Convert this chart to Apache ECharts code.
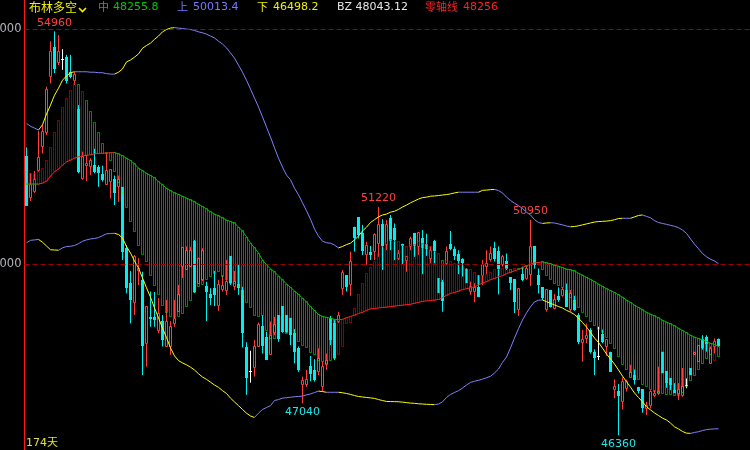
<!DOCTYPE html>
<html><head><meta charset="utf-8">
<script src="https://cdn.jsdelivr.net/npm/echarts/dist/echarts.min.js"></script>
<style>html,body{margin:0;padding:0;background:#000;}#c{width:750px;height:450px;}</style>
</head><body><div id="c"></div>
<script>
const open=[52310,51420,51540,51990,52510,52810,53990,54630,54290,54370,
54410,54100,53920,53310,51830,52100,52080,52110,52080,51920,
51690,51770,51820,51650,51650,50350,49600,49180,49860,49670,
48320,48880,48880,48600,48790,48250,48250,48740,48990,49960,
49880,49950,50500,49600,49670,49540,49370,49490,49120,49470,
49450,50180,49520,49590,49450,48230,47710,47800,48260,48690,
48460,48070,48540,48920,49110,48920,48850,48530,48210,47450,
47440,47830,47760,47710,47390,47860,48860,48740,48780,49490,
49770,49560,50800,51000,50660,50210,50270,50270,50450,50860,
50430,50990,50780,50130,50430,50090,50380,50670,50380,50570,
50430,50130,50500,49710,49620,50020,50430,50320,50210,50110,
49910,49430,49420,49520,49770,49950,50110,50350,50280,49990,
50070,49720,49680,49040,49790,49700,49790,50380,49770,49510,
49040,49450,49060,49330,49330,49450,49030,49250,48920,48340,
48420,48600,48140,48030,48520,48260,48140,47340,47310,47070,
47360,47590,47640,47390,47340,46930,47000,47200,47250,48140,
47730,47570,47320,47250,47200,47430,47790,48070,47930,48420,
48460,47890,48260,48420];
const close=[51250,51700,51800,52280,52820,53730,54540,54160,54540,54370,
53900,53990,54050,51970,52290,52150,52200,51970,51940,51800,
51990,52010,51520,51800,50270,49490,49240,50160,49910,48250,
49110,48830,48810,48960,48390,48780,48670,48840,49350,50360,
50300,50300,49400,50130,50300,49400,49280,49350,49560,49540,
49630,49600,49640,49500,48540,47570,47710,48260,48710,48260,
47960,48490,48710,48410,48560,48560,48490,48140,47750,47520,
47550,47660,47540,48000,47820,47960,48390,48000,48900,49820,
49520,50060,50550,50620,50280,50410,50200,50640,50840,50380,
50840,50500,50520,50240,50400,50160,50550,50380,50670,50340,
50320,50300,50280,49390,49220,50280,50320,50180,50060,50020,
49600,49520,49500,49310,49990,50020,50230,50110,49900,50160,
49910,49610,49200,49490,49670,49910,50380,49990,49560,49280,
49470,49100,49250,49250,49470,49100,49370,49030,48350,48390,
48490,48140,48000,48030,48350,48390,47710,47390,47200,47500,
47500,47690,47540,47310,46930,47000,47290,47250,47300,47680,
47470,47430,47260,47340,47390,47430,47640,48130,48280,48210,
48300,48210,48350,48260];
const low=[51240,51350,51520,51970,52360,52750,53850,54070,54240,54140,
53850,53960,53820,51940,51800,51770,51900,51940,51650,51760,
51690,51400,51260,51330,50090,49380,48740,48920,49560,47640,
47820,48670,48670,48530,48250,48250,48070,48670,48990,49710,
49880,49950,49390,49590,49640,48790,49130,49110,49010,49420,
49350,49560,49450,49350,48230,47220,47480,47610,48250,48100,
47960,48070,48490,48350,48540,48540,48280,47890,47710,47040,
47390,47510,47500,47640,47290,47750,48280,47960,48750,49350,
49420,49330,50270,50550,50200,49990,50090,50090,50160,49880,
50300,50300,50090,50090,49990,49840,50300,50160,50200,49790,
50180,50020,50020,49390,48990,49990,50300,50090,49790,49740,
49600,49350,49190,49300,49560,49790,50060,50060,49360,49950,
49880,49450,48960,48900,49640,49670,49540,49910,49380,49240,
48990,49080,49040,49200,49310,49090,48990,49010,48300,47930,
48320,48100,47640,47960,48320,48050,47710,47150,46360,46910,
47290,47590,47440,47250,46840,46790,46930,47170,47220,47680,
47370,47320,47260,47110,47180,47360,47640,48070,47930,48180,
48140,47890,48100,48250];
const high=[52490,51940,51990,52840,52970,53780,54750,54960,54880,54580,
54460,54460,54100,53390,52400,52330,52260,52460,52110,52100,
52360,52010,51890,51890,51650,50410,49860,50200,50130,49840,
49110,49420,49410,49280,48920,49240,48790,49240,49560,50370,
50380,50370,50520,50140,50340,49630,49490,49860,49670,49770,
50090,50180,49860,49990,49520,48340,48160,48390,48760,48920,
48560,48780,48880,48920,49110,48920,48860,48620,48250,47610,
47750,48050,47980,48210,47930,48100,48900,48810,48990,49880,
49770,50270,50800,51000,50840,50480,50390,50660,51220,50960,
50940,51050,50870,50300,50440,50180,50590,50670,50690,50730,
50650,50380,50520,49710,49670,50380,50710,50380,50300,50130,
49920,49630,49600,49770,50090,50300,50380,50480,50380,50200,
50230,49730,49690,49490,49950,49950,50950,50380,49910,49510,
49470,49450,49370,49510,49510,49590,49450,49330,48960,48600,
48740,48640,48190,48670,48610,48390,48140,47550,47450,47590,
47540,47860,47760,47390,47340,47070,47320,47320,47820,48140,
47730,47570,47470,47470,47790,47570,47790,48140,48280,48490,
48490,48250,48420,48420];
const midBand=[51710,51710,51710,51710,51730,51770,51880,51970,52030,52110,
52180,52220,52260,52290,52310,52320,52330,52350,52360,52365,
52370,52375,52380,52350,52310,52260,52210,52140,52050,51990,
51940,51890,51840,51760,51690,51620,51570,51520,51490,51450,
51410,51370,51330,51280,51230,51180,51120,51070,51030,50990,
50940,50910,50880,50790,50710,50580,50450,50350,50240,50090,
49990,49900,49840,49750,49670,49580,49510,49430,49360,49280,
49200,49100,49010,48930,48890,48870,48850,48830,48820,48830,
48860,48890,48920,48950,48980,49020,49050,49060,49070,49080,
49090,49100,49110,49120,49130,49140,49150,49170,49190,49210,
49220,49230,49240,49250,49290,49340,49380,49400,49430,49460,
49480,49500,49520,49560,49600,49630,49670,49700,49730,49760,
49800,49830,49860,49890,49930,49970,50000,50030,50040,50050,
50030,50010,49980,49960,49930,49900,49880,49860,49810,49770,
49720,49680,49630,49580,49530,49480,49440,49400,49350,49300,
49240,49190,49130,49080,49030,48980,48940,48900,48860,48810,
48770,48730,48690,48640,48590,48540,48490,48450,48420,48390,
48360,48320,48290,48255.8];
const bzLine=[51970,51940,51940,51970,52050,52220,52480,52800,53070,53330,
53540,53710,53840,53820,53670,53480,53260,53030,52800,52580,
52390,52220,51970,51750,51520,51220,50920,50690,50390,50200,
50050,49770,49540,49350,49130,48980,48880,48860,48880,48960,
49110,49240,49390,49520,49580,49670,49730,49810,49840,49730,
49670,49600,49600,49520,49350,49180,49090,48900,48880,48920,
48600,48430,48430,48490,48560,48520,48560,48540,48350,48280,
48220,48130,48070,47960,47920,47880,47960,48000,48070,48240,
48750,48770,49050,49350,49600,49810,49940,50070,50240,50370,
50480,50520,50480,50480,50410,50370,50430,50430,50480,50450,
50430,50370,50270,50230,50090,50090,50060,50020,50020,49990,
49910,49880,49830,49770,49760,49790,49830,49880,49900,49910,
49920,49900,49920,49920,49920,49960,50030,50030,50030,49880,
49770,49670,49600,49540,49500,49410,49300,49180,49070,48980,
48880,48790,48690,48620,48540,48450,48320,48200,48030,47860,
47750,47690,47600,47540,47450,47390,47340,47300,47260,47240,
47220,47220,47200,47200,47280,47390,47520,47640,47750,47880,
48000,48070,47960,48043.12];
const upperBand=[53000,52940,52900,52860,52970,53200,53390,53600,53750,53920,
54010,54080,54100,54100,54100,54100,54090,54090,54080,54080,
54060,54050,54050,54090,54160,54310,54350,54410,54480,54600,
54660,54710,54790,54860,54950,55000,55030,55040,55030,55020,
55010,55000,54980,54950,54930,54900,54860,54820,54750,54690,
54610,54500,54390,54240,54090,53920,53730,53540,53350,53140,
52920,52710,52480,52260,52070,51900,51800,51620,51480,51310,
51140,50960,50750,50600,50490,50460,50450,50410,50350,50380,
50420,50450,50520,50600,50710,50790,50890,50950,51010,51050,
51070,51110,51130,51170,51220,51260,51310,51350,51390,51420,
51430,51450,51455,51465,51475,51485,51500,51520,51535,51535,
51535,51535,51535,51535,51575,51580,51590,51595,51570,51520,
51430,51360,51300,51250,51190,51110,51050,50950,50890,50870,
50880,50885,50880,50860,50840,50815,50800,50805,50820,50840,
50860,50880,50900,50910,50915,50920,50930,50950,50975,50980,
50980,50980,51010,51040,51050,51020,50990,50930,50890,50870,
50850,50830,50810,50780,50730,50660,50540,50430,50330,50230,
50160,50110,50070,50013.4];
const lowerBand=[50460,50510,50520,50530,50470,50390,50310,50305,50300,50350,
50380,50385,50400,50440,50490,50520,50540,50550,50570,50610,
50650,50655,50660,50635,50560,50380,50240,50070,49920,49710,
49500,49300,49070,48860,48640,48440,48220,48050,47950,47900,
47860,47810,47750,47670,47600,47550,47490,47430,47380,47310,
47250,47150,47070,46990,46910,46830,46770,46740,46830,46910,
46950,46990,47100,47120,47150,47160,47170,47180,47185,47195,
47220,47240,47270,47300,47290,47275,47275,47275,47275,47265,
47250,47230,47205,47185,47175,47165,47155,47145,47120,47100,
47080,47078,47076,47073,47065,47055,47045,47040,47030,47025,
47020,47015,47012,47025,47070,47165,47230,47270,47310,47365,
47430,47485,47510,47530,47555,47585,47615,47685,47770,47910,
48025,48220,48430,48630,48815,48965,49095,49200,49235,49240,
49205,49170,49135,49100,49070,49020,48980,48930,48855,48760,
48665,48550,48430,48335,48215,48090,47985,47875,47750,47620,
47500,47385,47260,47165,47070,46970,46900,46835,46780,46725,
46685,46620,46540,46495,46440,46405,46400,46420,46435,46460,
46480,46490,46495,46498.2];
// 1 = 多 (long, red bar), -1 = 空 (short, green bar)
const trend=[-1,1,1,1,1,1,1,1,1,1,
1,1,1,-1,1,-1,-1,-1,-1,-1,
-1,-1,-1,-1,-1,-1,-1,-1,-1,-1,
-1,-1,-1,-1,-1,-1,-1,-1,-1,-1,
-1,-1,-1,-1,-1,-1,-1,-1,-1,-1,
-1,-1,-1,-1,-1,-1,-1,-1,-1,-1,
-1,-1,-1,-1,-1,-1,-1,-1,-1,-1,
-1,-1,-1,-1,-1,-1,-1,-1,1,1,
1,1,1,1,1,1,1,1,1,1,
1,1,1,1,1,1,1,1,1,1,
1,1,1,1,-1,1,1,1,1,1,
1,1,1,-1,1,1,1,1,1,1,
1,-1,1,-1,-1,-1,1,-1,1,-1,
-1,-1,-1,-1,-1,-1,-1,-1,-1,-1,
-1,-1,-1,-1,-1,-1,-1,-1,-1,-1,
-1,-1,-1,-1,-1,-1,-1,-1,-1,-1,
-1,-1,-1,-1,-1,-1,-1,-1,-1,-1,
-1,-1,1,-1];
const markHighIdx=[7,88,126];
const markLowIdx=[69,148];
const yLabelValues=[50000,55000];

const n=open.length;
const UP='#ff3c3c', DOWN='#00f0f0', DOJI='#ffffff';
const NUMFONT='"DejaVu Sans", sans-serif';
const CJKFONT='"Noto Sans CJK SC", sans-serif';
function crisp(v){return Math.round(v-0.5)+0.5;}

function renderCandle(params, api){
  const i=api.value(0), o=api.value(1), c=api.value(2), l=api.value(3), h=api.value(4);
  const po=api.coord([i,o]);
  const x=crisp(po[0]);
  const yo=po[1], yc=api.coord([i,c])[1], yl=api.coord([i,l])[1], yh=api.coord([i,h])[1];
  const ch=[];
  if(o===c){
    const y=crisp(yo);
    ch.push({type:'line',shape:{x1:x,y1:yh,x2:x,y2:yl},style:{stroke:DOJI,lineWidth:1,fill:'none'}});
    ch.push({type:'line',shape:{x1:x-1.5,y1:y,x2:x+1.5,y2:y},style:{stroke:DOJI,lineWidth:1,fill:'none'}});
  } else if(c>o){
    const top=crisp(yc), bot=crisp(yo);
    ch.push({type:'line',shape:{x1:x,y1:yh,x2:x,y2:top},style:{stroke:UP,lineWidth:1,fill:'none'}});
    ch.push({type:'line',shape:{x1:x,y1:bot,x2:x,y2:yl},style:{stroke:UP,lineWidth:1,fill:'none'}});
    ch.push({type:'rect',shape:{x:x-1,y:top,width:2,height:Math.max(bot-top,1)},style:{stroke:UP,fill:'none',lineWidth:1}});
  } else {
    ch.push({type:'line',shape:{x1:x,y1:yh,x2:x,y2:yl},style:{stroke:DOWN,lineWidth:1,fill:'none'}});
    const t=Math.round(yo), b=Math.round(yc);
    ch.push({type:'rect',shape:{x:x-1.5,y:t,width:3,height:Math.max(b-t,1)},style:{fill:DOWN,stroke:'none'}});
  }
  return {type:'group',children:ch};
}

function renderBar(params, api){
  const i=api.value(0);
  const pm=api.coord([i,api.value(1)]), ps=api.coord([i,api.value(2)]);
  const x=crisp(pm[0]);
  const y1=crisp(Math.min(pm[1],ps[1])), y2=crisp(Math.max(pm[1],ps[1]));
  const col=api.value(3)>0?'rgba(255,0,0,0.55)':'rgba(0,255,0,0.55)';
  return {type:'rect',shape:{x:x-1,y:y1,width:2,height:Math.max(y2-y1,0)},style:{stroke:col,fill:'none',lineWidth:1}};
}

function segSeries(arr, colorFn, z){
  return {type:'custom',z:z,silent:true,animation:false,clip:false,
    data:arr.slice(0,-1).map((v,i)=>[i,v,i+1,arr[i+1]]),
    encode:{x:[0,2],y:[1,3]},
    renderItem(params, api){
      const a=api.value(1), b=api.value(3);
      const p1=api.coord([api.value(0),a]), p2=api.coord([api.value(2),b]);
      return {type:'line',shape:{x1:p1[0],y1:p1[1],x2:p2[0],y2:p2[1]},style:{stroke:colorFn(a,b),lineWidth:1,fill:'none'}};
    }};
}

const candleData=open.map((o,i)=>[i,o,close[i],low[i],high[i]]);
const barData=midBand.map((m,i)=>[i,m,bzLine[i],trend[i]]);
const labelData=markHighIdx.map(i=>[i,high[i],1]).concat(markLowIdx.map(i=>[i,low[i],-1]));

const last=n-1;
const chart=echarts.init(document.getElementById('c'),null,{renderer:'canvas'});
chart.setOption({
  backgroundColor:'#000',
  animation:false,
  grid:{left:24.5,right:0,top:0,bottom:0,containLabel:false,outerBoundsMode:'none'},
  xAxis:{type:'value',min:-0.5,max:180.875,show:false,splitLine:{show:false}},
  yAxis:{type:'value',min:46046,max:55628,position:'left',
    axisLine:{show:true,onZero:false,lineStyle:{color:'#ff1a1a',width:1}},
    axisTick:{show:false},
    splitLine:{show:false},
    axisLabel:{customValues:yLabelValues,formatter:v=>String(v),color:'#b4b4bc',fontSize:11.5,fontFamily:'DejaVu Sans',margin:3}},
  series:[
    {type:'custom',z:2,silent:true,clip:false,data:candleData,encode:{x:0,y:[1,2,3,4]},renderItem:renderCandle,
     markLine:{silent:true,symbol:['none','none'],label:{show:false},animation:false,
       lineStyle:{color:'#a00000',type:[5,3],width:1},
       data:yLabelValues.map(v=>({yAxis:v}))}},
    {type:'custom',z:3,silent:true,clip:false,data:barData,encode:{x:0,y:[1,2]},renderItem:renderBar},
    segSeries(upperBand,(a,b)=>b>a?'#ffff00':'#8080ff',4),
    segSeries(lowerBand,(a,b)=>b<a?'#ffff00':'#8080ff',4),
    segSeries(midBand,(a,b)=>b>a?'#ff2020':'#00c000',5),
    {type:'custom',z:6,silent:true,clip:false,data:labelData,encode:{x:0,y:1},
     renderItem(params, api){
       const v=api.value(1), upSide=api.value(2)>0;
       const p=api.coord([api.value(0),v]);
       return {type:'text',x:p[0],y:upSide?p[1]-3:p[1]+3,
         style:{text:String(Math.round(v)),fill:upSide?'#ff4040':'#20e8e8',font:'11px '+NUMFONT,
           align:'center',verticalAlign:upSide?'bottom':'top',textAlign:'center',textVerticalAlign:upSide?'bottom':'top'}};
     }}
  ],
  graphic:[
    {type:'text',x:29,y:7,style:{text:'布林多空',fill:'#f0f000',font:'12px '+CJKFONT,verticalAlign:'middle',textVerticalAlign:'middle'}},
    {type:'polyline',shape:{points:[[79,8],[82.5,11.5],[86,8]]},style:{stroke:'#f0f000',lineWidth:1.6,fill:'none'}},
    {type:'text',x:98,y:7,style:{text:'中',fill:'#00c800',font:'11px '+CJKFONT,verticalAlign:'middle',textVerticalAlign:'middle'}},
    {type:'text',x:113,y:7,style:{text:midBand[last].toFixed(1),fill:'#00c800',font:'11px '+NUMFONT,verticalAlign:'middle',textVerticalAlign:'middle'}},
    {type:'text',x:177,y:7,style:{text:'上',fill:'#7878ff',font:'11px '+CJKFONT,verticalAlign:'middle',textVerticalAlign:'middle'}},
    {type:'text',x:193,y:7,style:{text:upperBand[last].toFixed(1),fill:'#7878ff',font:'11px '+NUMFONT,verticalAlign:'middle',textVerticalAlign:'middle'}},
    {type:'text',x:257,y:7,style:{text:'下',fill:'#f0f000',font:'11px '+CJKFONT,verticalAlign:'middle',textVerticalAlign:'middle'}},
    {type:'text',x:273,y:7,style:{text:lowerBand[last].toFixed(1),fill:'#f0f000',font:'11px '+NUMFONT,verticalAlign:'middle',textVerticalAlign:'middle'}},
    {type:'text',x:337,y:7,style:{text:'BZ '+bzLine[last].toFixed(2),fill:'#e6e6e6',font:'11px '+NUMFONT,verticalAlign:'middle',textVerticalAlign:'middle'}},
    {type:'text',x:425,y:7,style:{text:'零轴线',fill:'#ff2020',font:'11px '+CJKFONT,verticalAlign:'middle',textVerticalAlign:'middle'}},
    {type:'text',x:463,y:7,style:{text:String(Math.round(midBand[last])),fill:'#ff2020',font:'11px '+NUMFONT,verticalAlign:'middle',textVerticalAlign:'middle'}},
    {type:'text',x:26,y:443,style:{text:n+'天',fill:'#e0e040',font:'11px '+NUMFONT+', '+CJKFONT,verticalAlign:'middle',textVerticalAlign:'middle'}}
  ]
});
</script></body></html>
